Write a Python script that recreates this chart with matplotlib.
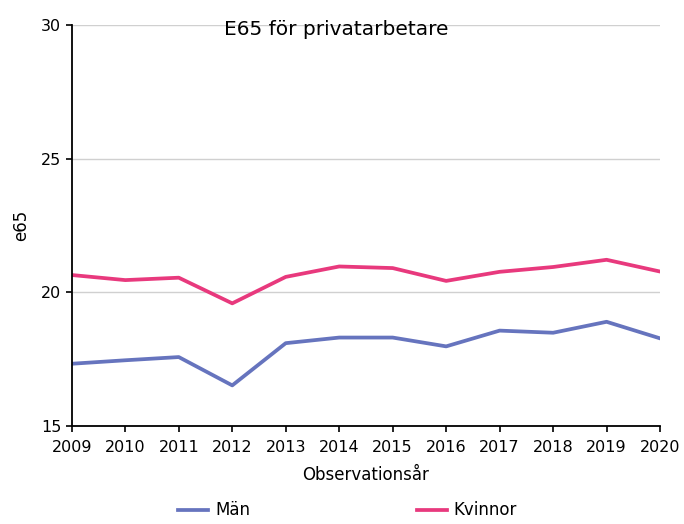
import matplotlib
matplotlib.use("Agg")
import matplotlib.pyplot as plt

# observationsår och e65 per kön
years = [2009, 2010, 2011, 2012, 2013, 2014, 2015, 2016, 2017, 2018, 2019, 2020]
man = [17.33, 17.46, 17.58, 16.52, 18.10, 18.31, 18.31, 17.98, 18.57, 18.49, 18.90, 18.28]
kvinnor = [20.65, 20.46, 20.55, 19.59, 20.58, 20.97, 20.91, 20.43, 20.77, 20.95, 21.22, 20.78]

plt.rcParams['font.family'] = ['DejaVu Sans']

fig = plt.figure(figsize=(6.84, 5.24), dpi=100)
ax = fig.add_axes([0.105, 0.187, 0.86, 0.765])

ax.plot(years, man, color='#6674BE', lw=2.7, label='Män')
ax.plot(years, kvinnor, color='#E8397D', lw=2.7, label='Kvinnor')

ax.set_xlim(2009, 2020)
ax.set_ylim(15, 30)
ax.set_xticks(years)
ax.set_yticks([15, 20, 25, 30])
ax.tick_params(axis='both', labelsize=11.5, length=4, width=1.2, colors='black')
ax.tick_params(axis='x', pad=6)
ax.grid(axis='y', color='#d0d0d0', lw=1)
ax.set_axisbelow(True)
for s in ['top', 'right']:
    ax.spines[s].set_visible(False)
for s in ['left', 'bottom']:
    ax.spines[s].set_linewidth(1.3)

ax.set_xlabel('Observationsår', fontsize=12, labelpad=8)
ax.set_ylabel('e65', fontsize=12, labelpad=8)
ax.text(0.449, 0.99, 'E65 för privatarbetare', transform=ax.transAxes,
        ha='center', va='center', fontsize=14.5)

fig.legend(loc='center', bbox_to_anchor=(0.508, 0.026), ncol=2, frameon=False,
           fontsize=12, handlelength=1.8, handletextpad=0.4, columnspacing=10.0)

fig.savefig('out.png', dpi=100)
